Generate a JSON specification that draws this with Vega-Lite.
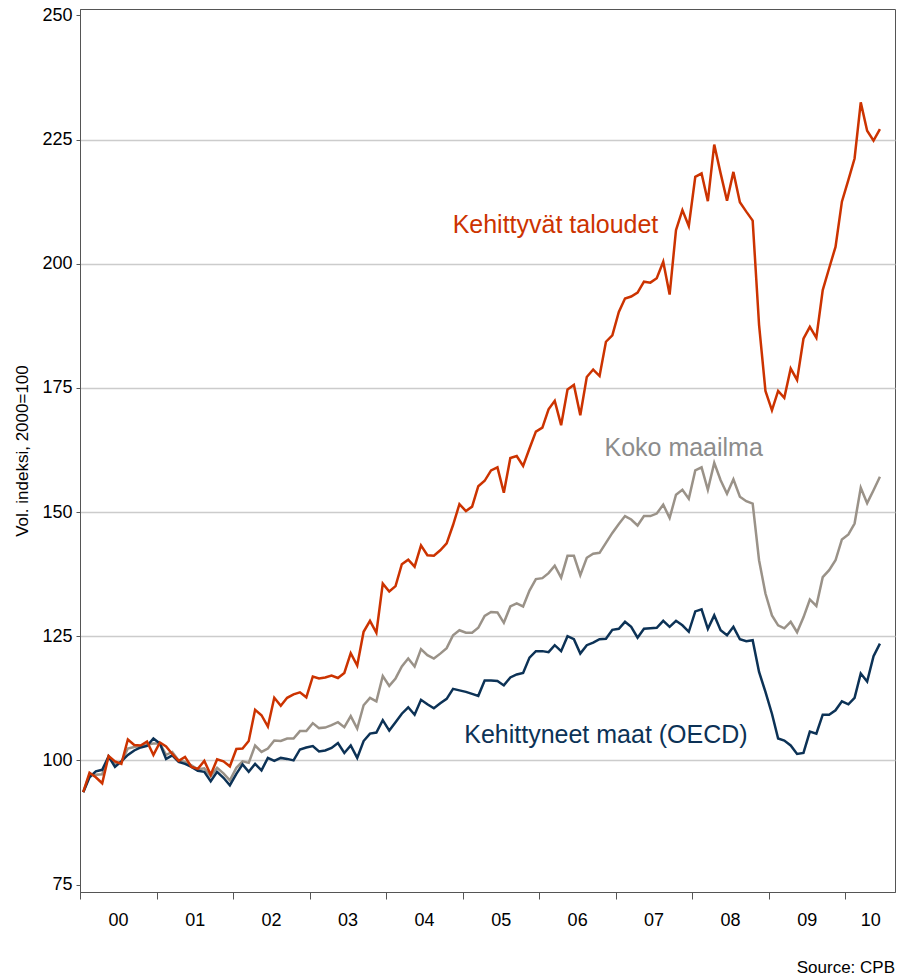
{
  "$schema": "https://vega.github.io/schema/vega-lite/v6.json",
  "width": 815,
  "height": 883,
  "autosize": {"type": "none"},
  "padding": {"left": 80, "top": 9, "right": 2, "bottom": 88},
  "background": "white",
  "title": {"text": "Source: CPB", "orient": "bottom", "anchor": "end", "fontSize": 17, "fontWeight": "normal", "color": "#000000", "font": "Liberation Sans", "offset": 31},
  "config": {
    "font": "Liberation Sans",
    "view": {"stroke": "#555555", "strokeWidth": 1}
  },
  "datasets": {
    "trade": [
      {"m":"2000-01","em":93.6,"w":93.6,"oe":93.6},
      {"m":"2000-02","em":97.5,"w":97.1,"oe":96.6},
      {"m":"2000-03","em":96.6,"w":97.1,"oe":97.8},
      {"m":"2000-04","em":95.4,"w":97.2,"oe":98.1},
      {"m":"2000-05","em":100.9,"w":100.7,"oe":100.8},
      {"m":"2000-06","em":99.8,"w":99.3,"oe":98.7},
      {"m":"2000-07","em":99.3,"w":99.7,"oe":99.8},
      {"m":"2000-08","em":104.2,"w":102.4,"oe":101.1},
      {"m":"2000-09","em":103.1,"w":102.7,"oe":102.0},
      {"m":"2000-10","em":103.0,"w":102.9,"oe":102.6},
      {"m":"2000-11","em":103.8,"w":103.2,"oe":102.9},
      {"m":"2000-12","em":101.1,"w":103.4,"oe":104.4},
      {"m":"2001-01","em":103.6,"w":103.4,"oe":103.4},
      {"m":"2001-02","em":102.8,"w":101.1,"oe":100.3},
      {"m":"2001-03","em":101.3,"w":101.7,"oe":101.0},
      {"m":"2001-04","em":99.9,"w":100.0,"oe":99.7},
      {"m":"2001-05","em":100.7,"w":99.7,"oe":99.3},
      {"m":"2001-06","em":98.7,"w":99.0,"oe":98.7},
      {"m":"2001-07","em":98.3,"w":98.2,"oe":97.9},
      {"m":"2001-08","em":99.9,"w":98.4,"oe":97.7},
      {"m":"2001-09","em":97.1,"w":96.8,"oe":95.8},
      {"m":"2001-10","em":100.2,"w":98.5,"oe":97.7},
      {"m":"2001-11","em":99.8,"w":97.4,"oe":96.5},
      {"m":"2001-12","em":98.8,"w":96.0,"oe":95.0},
      {"m":"2002-01","em":102.3,"w":98.5,"oe":97.3},
      {"m":"2002-02","em":102.4,"w":99.8,"oe":99.2},
      {"m":"2002-03","em":103.9,"w":99.5,"oe":97.7},
      {"m":"2002-04","em":110.2,"w":103.0,"oe":99.3},
      {"m":"2002-05","em":109.1,"w":101.7,"oe":98.0},
      {"m":"2002-06","em":106.8,"w":102.4,"oe":100.5},
      {"m":"2002-07","em":112.6,"w":104.0,"oe":99.9},
      {"m":"2002-08","em":111.0,"w":103.9,"oe":100.5},
      {"m":"2002-09","em":112.6,"w":104.4,"oe":100.3},
      {"m":"2002-10","em":113.3,"w":104.4,"oe":100.0},
      {"m":"2002-11","em":113.7,"w":105.9,"oe":102.2},
      {"m":"2002-12","em":112.7,"w":105.9,"oe":102.6},
      {"m":"2003-01","em":116.9,"w":107.5,"oe":102.9},
      {"m":"2003-02","em":116.5,"w":106.5,"oe":101.8},
      {"m":"2003-03","em":116.7,"w":106.6,"oe":102.0},
      {"m":"2003-04","em":117.1,"w":107.1,"oe":102.5},
      {"m":"2003-05","em":116.6,"w":107.7,"oe":103.5},
      {"m":"2003-06","em":117.6,"w":106.7,"oe":101.5},
      {"m":"2003-07","em":121.6,"w":108.9,"oe":103.0},
      {"m":"2003-08","em":119.1,"w":106.4,"oe":100.5},
      {"m":"2003-09","em":125.9,"w":111.1,"oe":103.9},
      {"m":"2003-10","em":128.1,"w":112.6,"oe":105.4},
      {"m":"2003-11","em":125.7,"w":111.9,"oe":105.6},
      {"m":"2003-12","em":135.6,"w":117.0,"oe":108.1},
      {"m":"2004-01","em":134.0,"w":115.0,"oe":106.0},
      {"m":"2004-02","em":135.1,"w":116.5,"oe":107.7},
      {"m":"2004-03","em":139.5,"w":118.9,"oe":109.4},
      {"m":"2004-04","em":140.4,"w":120.5,"oe":110.7},
      {"m":"2004-05","em":139.0,"w":118.9,"oe":109.2},
      {"m":"2004-06","em":143.3,"w":122.4,"oe":112.2},
      {"m":"2004-07","em":141.3,"w":121.2,"oe":111.3},
      {"m":"2004-08","em":141.2,"w":120.5,"oe":110.5},
      {"m":"2004-09","em":142.3,"w":121.5,"oe":111.5},
      {"m":"2004-10","em":143.7,"w":122.6,"oe":112.4},
      {"m":"2004-11","em":147.4,"w":125.2,"oe":114.4},
      {"m":"2004-12","em":151.6,"w":126.2,"oe":114.1},
      {"m":"2005-01","em":150.2,"w":125.7,"oe":113.8},
      {"m":"2005-02","em":151.1,"w":125.7,"oe":113.4},
      {"m":"2005-03","em":155.2,"w":126.7,"oe":113.0},
      {"m":"2005-04","em":156.3,"w":129.1,"oe":116.1},
      {"m":"2005-05","em":158.4,"w":129.9,"oe":116.1},
      {"m":"2005-06","em":159.0,"w":129.8,"oe":116.0},
      {"m":"2005-07","em":153.9,"w":127.7,"oe":115.1},
      {"m":"2005-08","em":160.9,"w":131.0,"oe":116.7},
      {"m":"2005-09","em":161.3,"w":131.6,"oe":117.3},
      {"m":"2005-10","em":159.3,"w":131.0,"oe":117.6},
      {"m":"2005-11","em":162.8,"w":134.2,"oe":120.7},
      {"m":"2005-12","em":166.2,"w":136.5,"oe":122.0},
      {"m":"2006-01","em":167.0,"w":136.7,"oe":122.0},
      {"m":"2006-02","em":170.7,"w":137.7,"oe":121.8},
      {"m":"2006-03","em":172.4,"w":139.2,"oe":123.2},
      {"m":"2006-04","em":167.5,"w":136.8,"oe":122.0},
      {"m":"2006-05","em":174.7,"w":141.2,"oe":125.0},
      {"m":"2006-06","em":175.6,"w":141.2,"oe":124.4},
      {"m":"2006-07","em":169.5,"w":137.3,"oe":121.5},
      {"m":"2006-08","em":177.2,"w":140.8,"oe":123.2},
      {"m":"2006-09","em":178.7,"w":141.6,"oe":123.7},
      {"m":"2006-10","em":177.4,"w":141.8,"oe":124.4},
      {"m":"2006-11","em":184.3,"w":143.8,"oe":124.5},
      {"m":"2006-12","em":185.6,"w":145.8,"oe":126.3},
      {"m":"2007-01","em":190.3,"w":147.6,"oe":126.5},
      {"m":"2007-02","em":193.0,"w":149.2,"oe":127.9},
      {"m":"2007-03","em":193.4,"w":148.5,"oe":126.9},
      {"m":"2007-04","em":194.2,"w":147.3,"oe":124.7},
      {"m":"2007-05","em":196.4,"w":149.2,"oe":126.5},
      {"m":"2007-06","em":196.2,"w":149.2,"oe":126.6},
      {"m":"2007-07","em":197.1,"w":149.7,"oe":126.7},
      {"m":"2007-08","em":200.4,"w":151.5,"oe":128.1},
      {"m":"2007-09","em":193.8,"w":148.8,"oe":126.9},
      {"m":"2007-10","em":206.8,"w":153.5,"oe":128.1},
      {"m":"2007-11","em":210.8,"w":154.5,"oe":127.2},
      {"m":"2007-12","em":207.6,"w":152.7,"oe":125.9},
      {"m":"2008-01","em":217.5,"w":158.4,"oe":130.0},
      {"m":"2008-02","em":218.2,"w":159.0,"oe":130.4},
      {"m":"2008-03","em":212.6,"w":154.5,"oe":126.5},
      {"m":"2008-04","em":224.0,"w":159.9,"oe":129.2},
      {"m":"2008-05","em":218.2,"w":156.4,"oe":126.2},
      {"m":"2008-06","em":212.7,"w":153.7,"oe":125.2},
      {"m":"2008-07","em":218.5,"w":156.6,"oe":126.9},
      {"m":"2008-08","em":212.4,"w":153.1,"oe":124.4},
      {"m":"2008-09","em":210.5,"w":152.2,"oe":124.0},
      {"m":"2008-10","em":208.7,"w":151.7,"oe":124.2},
      {"m":"2008-11","em":187.7,"w":140.3,"oe":117.8},
      {"m":"2008-12","em":174.4,"w":133.6,"oe":113.8},
      {"m":"2009-01","em":170.5,"w":129.2,"oe":109.4},
      {"m":"2009-02","em":174.4,"w":127.2,"oe":104.4},
      {"m":"2009-03","em":173.0,"w":126.6,"oe":104.0},
      {"m":"2009-04","em":178.9,"w":127.9,"oe":103.0},
      {"m":"2009-05","em":176.6,"w":125.8,"oe":101.3},
      {"m":"2009-06","em":184.9,"w":128.8,"oe":101.5},
      {"m":"2009-07","em":187.3,"w":132.4,"oe":105.8},
      {"m":"2009-08","em":185.1,"w":131.1,"oe":105.4},
      {"m":"2009-09","em":194.7,"w":136.9,"oe":109.2},
      {"m":"2009-10","em":199.1,"w":138.3,"oe":109.2},
      {"m":"2009-11","em":203.4,"w":140.3,"oe":110.1},
      {"m":"2009-12","em":212.5,"w":144.5,"oe":111.9},
      {"m":"2010-01","em":216.9,"w":145.5,"oe":111.3},
      {"m":"2010-02","em":221.2,"w":147.7,"oe":112.6},
      {"m":"2010-03","em":232.5,"w":154.9,"oe":117.5},
      {"m":"2010-04","em":226.8,"w":151.8,"oe":115.9},
      {"m":"2010-05","em":224.8,"w":154.4,"oe":121.0},
      {"m":"2010-06","em":227.1,"w":157.1,"oe":123.5}
    ]
  },
  "layer": [
    {
      "data": {"name": "trade"},
      "transform": [{"fold": ["w", "oe", "em"], "as": ["s", "v"]}],
      "mark": {"type": "line", "strokeWidth": 2.5, "strokeJoin": "miter"},
      "encoding": {
        "x": {
          "field": "m", "type": "temporal", "timeUnit": "utcyearmonth", "bandPosition": 0.5,
          "scale": {"type": "utc", "domain": [{"year": 2000, "month": 1, "date": 1, "utc": true}, {"year": 2010, "month": 8, "date": 27, "utc": true}]},
          "axis": {
            "title": null,
            "values": [
              {"year": 2000, "utc": true}, {"year": 2001, "utc": true}, {"year": 2002, "utc": true},
              {"year": 2003, "utc": true}, {"year": 2004, "utc": true}, {"year": 2005, "utc": true},
              {"year": 2006, "utc": true}, {"year": 2007, "utc": true}, {"year": 2008, "utc": true},
              {"year": 2009, "utc": true}, {"year": 2010, "utc": true}
            ],
            "labelExpr": "utcFormat(datum.value, '%y')",
            "labelOffset": {"condition": {"test": "utcyear(datum.value) == 2010", "value": 25}, "value": 38},
            "labelFlush": false,
            "labelOverlap": false,
            "labelBound": false,
            "labelFontSize": 18,
            "labelColor": "#000000",
            "labelPadding": 12,
            "tickSize": 7,
            "tickColor": "#555555",
            "domainColor": "#555555",
            "grid": false
          }
        },
        "y": {
          "field": "v", "type": "quantitative",
          "scale": {"domain": [73.5, 251.3], "nice": false, "zero": false},
          "axis": {
            "title": "Vol. indeksi, 2000=100",
            "titleFontSize": 17,
            "titleFontWeight": "normal",
            "titleColor": "#000000",
            "titlePadding": 10,
            "values": [75, 100, 125, 150, 175, 200, 225, 250],
            "labelFontSize": 18,
            "labelColor": "#000000",
            "labelPadding": 4,
            "tickSize": 4,
            "tickColor": "#555555",
            "domainColor": "#555555",
            "grid": true,
            "gridColor": "#cccccc",
            "gridWidth": 1.5,
            "gridOpacity": {"condition": {"test": "datum.value == 250 || datum.value == 75", "value": 0}, "value": 1}
          }
        },
        "color": {
          "field": "s", "type": "nominal",
          "scale": {"domain": ["w", "oe", "em"], "range": ["#9a9288", "#0c3256", "#cc3300"]},
          "legend": null
        }
      }
    },
    {
      "data": {"values": [{"label": "Kehittyvät taloudet"}]},
      "mark": {"type": "text", "fontSize": 25, "color": "#cc3300", "align": "center", "baseline": "middle"},
      "encoding": {
        "text": {"field": "label", "type": "nominal"},
        "x": {"datum": {"year": 2006, "month": 3, "date": 20, "utc": true}, "type": "temporal"},
        "y": {"datum": 207.8, "type": "quantitative"}
      }
    },
    {
      "data": {"values": [{"label": "Koko maailma"}]},
      "mark": {"type": "text", "fontSize": 25, "color": "#8c8c8c", "align": "center", "baseline": "middle"},
      "encoding": {
        "text": {"field": "label", "type": "nominal"},
        "x": {"datum": {"year": 2007, "month": 11, "date": 22, "utc": true}, "type": "temporal"},
        "y": {"datum": 162.9, "type": "quantitative"}
      }
    },
    {
      "data": {"values": [{"label": "Kehittyneet maat (OECD)"}]},
      "mark": {"type": "text", "fontSize": 25, "color": "#0c3256", "align": "center", "baseline": "middle"},
      "encoding": {
        "text": {"field": "label", "type": "nominal"},
        "x": {"datum": {"year": 2006, "month": 11, "date": 16, "utc": true}, "type": "temporal"},
        "y": {"datum": 105.1, "type": "quantitative"}
      }
    }
  ]
}
